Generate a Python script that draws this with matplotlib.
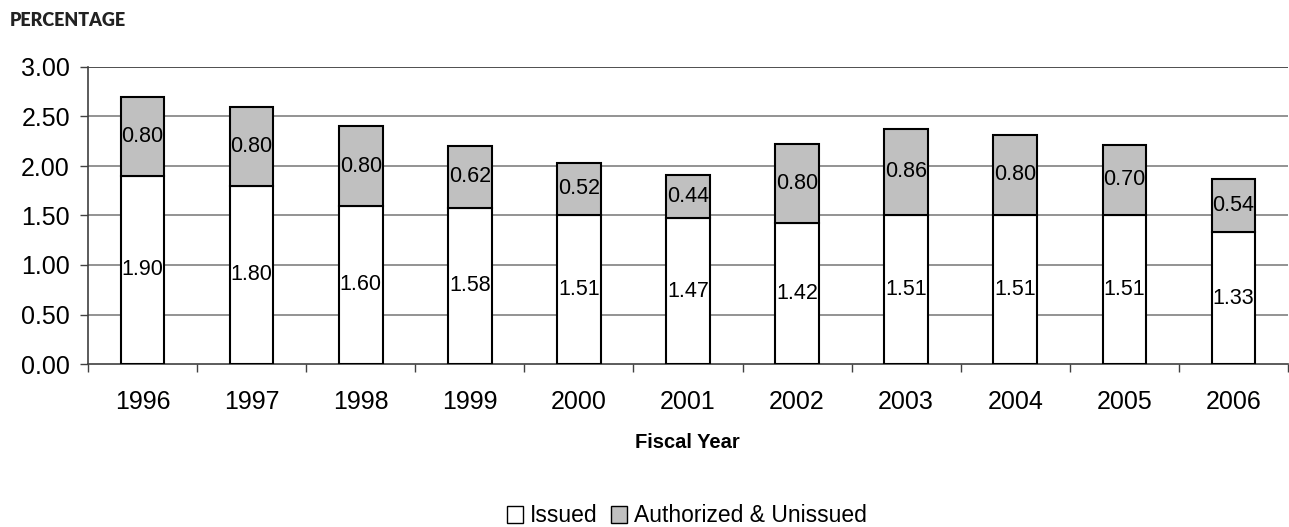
import matplotlib
matplotlib.use("Agg")
import matplotlib.pyplot as plt
import numpy as np
from matplotlib.patches import Patch

years = ["1996", "1997", "1998", "1999", "2000", "2001", "2002", "2003", "2004", "2005", "2006"]
issued = [1.90, 1.80, 1.60, 1.58, 1.51, 1.47, 1.42, 1.51, 1.51, 1.51, 1.33]
authorized = [0.80, 0.80, 0.80, 0.62, 0.52, 0.44, 0.80, 0.86, 0.80, 0.70, 0.54]
yticks = [0.0, 0.5, 1.0, 1.5, 2.0, 2.5, 3.0]

plt.rcParams['font.family'] = ['Liberation Sans', 'DejaVu Sans']

fig = plt.figure(figsize=(12.89, 5.27), dpi=100)
ax = fig.add_axes([88/1289, 1-364/527, 1200/1289, (364-67)/527])

x = np.arange(len(years))
w = 0.40
ax.bar(x, issued, width=w, color='white', edgecolor='black', linewidth=1.5, zorder=3)
ax.bar(x, authorized, width=w, bottom=issued, color='#c0c0c0', edgecolor='black', linewidth=1.5, zorder=3)

for xi, a, b in zip(x, issued, authorized):
    ax.text(xi, a/2, f"{a:.2f}", ha='center', va='center', fontsize=15.5, zorder=4)
    ax.text(xi, a + b/2, f"{b:.2f}", ha='center', va='center', fontsize=15.5, zorder=4)

ax.set_xlim(-0.5, len(years) - 0.5)
ax.set_ylim(0, 3.0)
ax.set_yticks(yticks)
ax.set_yticklabels([f"{v:.2f}" for v in yticks], fontsize=18)
for v in yticks[1:]:
    ax.axhline(v, color='#808080' if v < 3.0 else '#303030', linewidth=1.2, zorder=1)

ax.set_xticks(x)
ax.set_xticklabels(years, fontsize=18)
ax.set_xticks(np.arange(-0.5, len(years)), minor=True)
ax.tick_params(axis='x', which='major', length=0, pad=19)
ax.tick_params(axis='x', which='minor', length=6, width=1, color='#404040', direction='out')
ax.tick_params(axis='y', length=6, width=1, color='#404040', direction='out', pad=7)

for s in ['top', 'right']:
    ax.spines[s].set_visible(False)
ax.spines['left'].set_color('#404040')
ax.spines['bottom'].set_color('#404040')
ax.spines['left'].set_linewidth(1.2)
ax.spines['bottom'].set_linewidth(1.2)

fig.text((633+742)/2/1289, 1-443/527, "Fiscal Year", fontsize=14.5, fontweight='bold',
         ha='center', va='center')

fig.text(10/1289, 1-20/527, "PERCENTAGE", fontsize=13, fontweight='heavy',
         family=['Lato', 'DejaVu Sans'], ha='left', va='center', color='#222222')

handles = [Patch(facecolor='white', edgecolor='black', label='Issued'),
           Patch(facecolor='#c0c0c0', edgecolor='black', label='Authorized & Unissued')]
fig.legend(handles=handles, loc='center', bbox_to_anchor=(687/1289, 1-516/527), ncol=2,
           frameon=False, fontsize=16.5, handlelength=0.7, handleheight=0.7,
           handletextpad=0.3, columnspacing=0.6, borderpad=0)

fig.savefig("out.png", dpi=100)
